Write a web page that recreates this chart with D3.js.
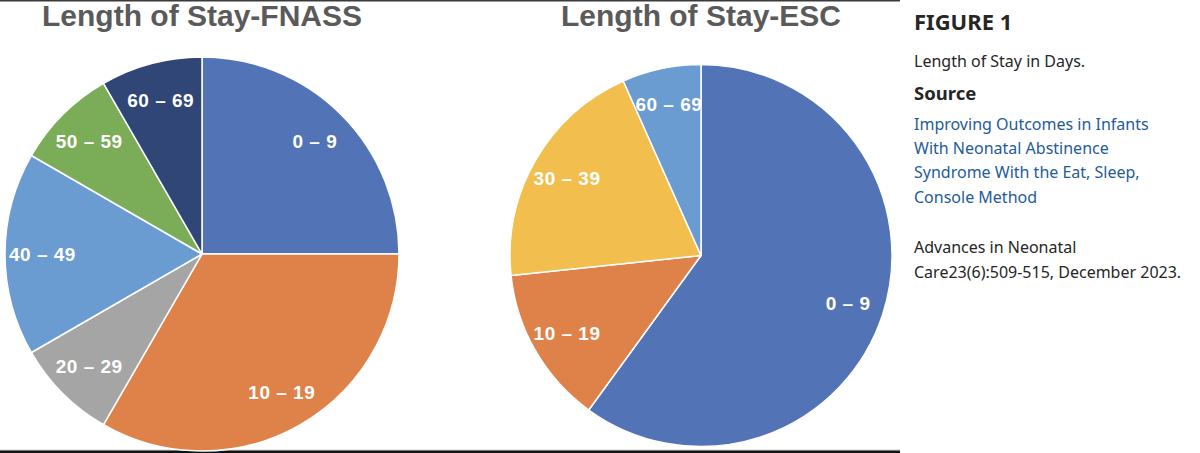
<!DOCTYPE html>
<html>
<head>
<meta charset="utf-8">
<style>
    body { margin: 0; background: #fff; }
    .pie-title { font-family: "Liberation Sans", Arial, sans-serif; font-weight: bold; font-size: 30px; fill: #5a5a5a; }
    .slice-label { font-family: "Liberation Sans", Arial, sans-serif; font-weight: bold; font-size: 19px; fill: #fff; letter-spacing: 0.5px; }
    .side { font-family: "Noto Sans", sans-serif; }
</style>
</head>
<body>
<svg width="1200" height="453"></svg>
<script src="https://cdn.jsdelivr.net/npm/d3@7"></script>
<script>

    // FNASS group (length of stay, days)
    var fnassCats = ["0 – 9", "10 – 19", "20 – 29", "40 – 49", "50 – 59", "60 – 69"];
    var fnassCounts = [3, 4, 1, 2, 1, 1];
    var fnassColors = ["#5274b6", "#de8249", "#a5a5a5", "#6a9bd1", "#7bac57", "#2f4676"];

    // ESC group
    var escCats = ["0 – 9", "10 – 19", "30 – 39", "60 – 69"];
    var escCounts = [9, 2, 3, 1];
    var escColors = ["#5274b6", "#de8249", "#f2bf4e", "#6a9bd1"];

    var sideLines = [
        {text: "FIGURE 1", cls: "head"},
        {text: "Length of Stay in Days.", cls: ""},
        {text: "Source", cls: "bold"},
        {text: "Improving Outcomes in Infants", cls: "link"},
        {text: "With Neonatal Abstinence", cls: "link"},
        {text: "Syndrome With the Eat, Sleep,", cls: "link"},
        {text: "Console Method", cls: "link"},
        {text: "Advances in Neonatal", cls: ""},
        {text: "Care23(6):509-515, December 2023.", cls: ""}
    ];
    var sideY = [30, 67, 100, 130, 154, 178, 203, 253, 278];

    var svg = d3.select("svg"),
        width = +svg.attr("width"),
        height = +svg.attr("height");

    // frame lines top & bottom
    svg.append("rect").attr("x", 0).attr("y", 0).attr("width", 900).attr("height", 1.5).attr("fill", "#3a3a3a");
    svg.append("rect").attr("x", 0).attr("y", 449.5).attr("width", 900).attr("height", 1).attr("fill", "#d0d0d0");
    svg.append("rect").attr("x", 0).attr("y", 450.5).attr("width", 900).attr("height", 2.5).attr("fill", "#111");

    function drawPie(cats, counts, colors, cx, cy, r, title) {
        var g = svg.append("g").attr("transform", "translate(" + cx + "," + cy + ")");

        var color = d3.scaleOrdinal().domain(cats).range(colors);
        var data = cats.map(function(c, i) { return {cat: c, value: counts[i]}; });

        var pie = d3.pie()
            .sort(null)
            .value(function(d) { return d.value; });

        var arc = d3.arc().innerRadius(0).outerRadius(r);
        var labelArc = d3.arc().innerRadius(r * 0.81).outerRadius(r * 0.81);

        var arcs = pie(data);

        g.selectAll("path")
            .data(arcs)
            .enter().append("path")
            .attr("d", arc)
            .attr("fill", function(d) { return color(d.data.cat); })
            .attr("stroke", "#fff")
            .attr("stroke-width", 1.5)
            .attr("stroke-linejoin", "round");

        g.selectAll("text")
            .data(arcs)
            .enter().append("text")
            .attr("class", "slice-label")
            .attr("transform", function(d) { return "translate(" + labelArc.centroid(d) + ")"; })
            .attr("text-anchor", "middle")
            .attr("dy", "0.35em")
            .text(function(d) { return d.data.cat; });

        svg.append("text")
            .attr("class", "pie-title")
            .attr("x", cx)
            .attr("y", 26)
            .attr("text-anchor", "middle")
            .text(title);
    }

    drawPie(fnassCats, fnassCounts, fnassColors, 202, 254, 197, "Length of Stay-FNASS");
    drawPie(escCats, escCounts, escColors, 701, 255.5, 191, "Length of Stay-ESC");

    // caption panel
    svg.selectAll("text.side")
        .data(sideLines)
        .enter().append("text")
        .attr("class", "side")
        .attr("x", 914)
        .attr("y", function(d, i) { return sideY[i]; })
        .style("font-weight", function(d) { return (d.cls == "bold" || d.cls == "head") ? "bold" : "normal"; })
        .style("font-size", function(d) { return d.cls == "head" ? "22px" : (d.cls == "bold" ? "18.5px" : "16px"); })
        .style("fill", function(d) { return d.cls == "link" ? "#245b98" : "#262626"; })
        .text(function(d) { return d.text; });

</script>
</body>
</html>
